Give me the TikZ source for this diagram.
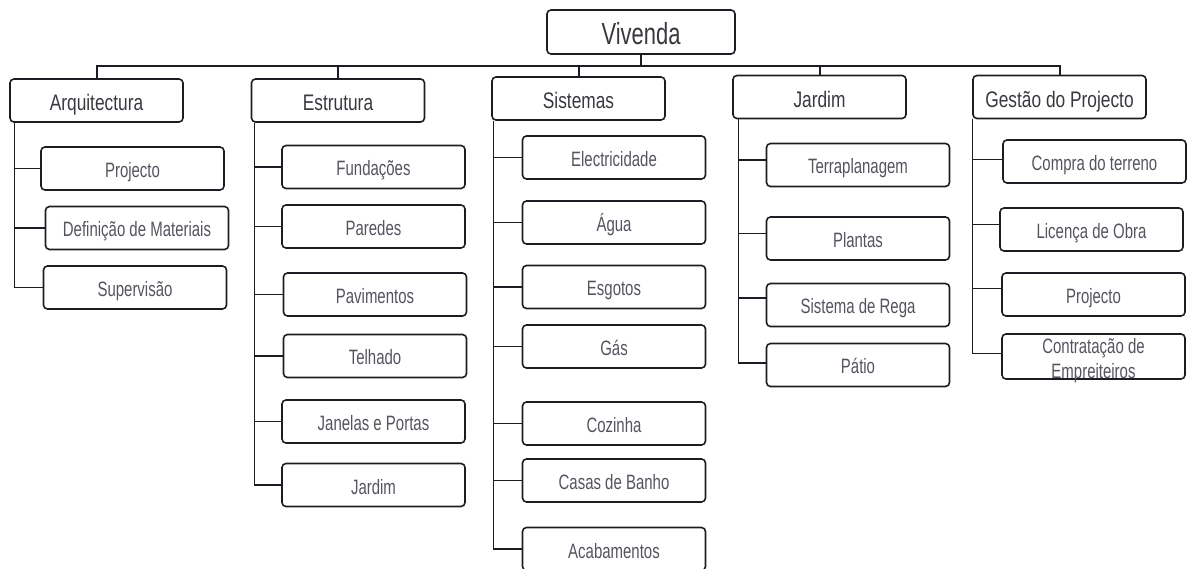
\documentclass[tikz,border=0pt]{standalone}
\usepackage{fontspec}
\setmainfont{Liberation Sans}[FakeStretch=0.72]
\newfontfamily\headfont{Liberation Sans}[FakeStretch=0.77]

\definecolor{edge}{HTML}{1E1C22}
\definecolor{ink}{HTML}{56535E}
\definecolor{headink}{HTML}{3A383F}

\begin{document}
\begin{tikzpicture}[x=1pt,y=-1pt,
  box/.style={draw=edge, line width=1.6pt, rounded corners=4pt, inner sep=0pt,
              minimum height=43pt, text=ink},
  root/.style={box, minimum width=188pt, minimum height=44pt, text=headink,
               font=\fontsize{30.5}{32}\selectfont, text height=26pt, text depth=0pt},
  area/.style={box, minimum width=173pt, text=headink,
               font=\headfont\fontsize{22.5}{24}\selectfont, text height=21pt, text depth=0pt},
  task/.style={box, minimum width=183pt,
               font=\fontsize{20.8}{25}\selectfont, text height=18pt, text depth=0pt},
  link/.style={draw=edge, line width=1.4pt},
  bus/.style={draw=edge, line width=2pt},
]
\useasboundingbox (0,0) rectangle (1187,569);

% root
\node[root] (viv) at (641,32) {Vivenda};

% second level
\node[area] (arq) at (96.5,100.5) {Arquitectura};
\node[area] (est) at (338,100.5)  {Estrutura};
\node[area] (sis) at (578.5,98.5) {Sistemas};
\node[area] (jar) at (819.5,97)   {Jardim};
\node[area] (ges) at (1059.5,97)  {Gestão do Projecto};

% Arquitectura
\node[task] (a1) at (132.5,168.5) {Projecto};
\node[task] (a2) at (137,228)     {Definição de Materiais};
\node[task] (a3) at (135,287.5)   {Supervisão};

% Estrutura
\node[task] (e1) at (373.5,167)   {Fundações};
\node[task] (e2) at (373.5,226.5) {Paredes};
\node[task] (e3) at (375,294.5)   {Pavimentos};
\node[task] (e4) at (375,356)     {Telhado};
\node[task] (e5) at (373.5,421.5) {Janelas e Portas};
\node[task] (e6) at (373.5,485)   {Jardim};

% Sistemas
\node[task] (s1) at (614,157.5) {Electricidade};
\node[task] (s2) at (614,222.5) {Água};
\node[task] (s3) at (614,287)   {Esgotos};
\node[task] (s4) at (614,346.5) {Gás};
\node[task] (s5) at (614,423.5) {Cozinha};
\node[task] (s6) at (614,480.5) {Casas de Banho};
\node[task] (s7) at (614,549)   {Acabamentos};

% Jardim
\node[task] (j1) at (858,165)   {Terraplanagem};
\node[task] (j2) at (858,238.5) {Plantas};
\node[task] (j3) at (858,305)   {Sistema de Rega};
\node[task] (j4) at (858,365)   {Pátio};

% Gestão do Projecto
\node[task] (g1) at (1094.5,161.5) {Compra do terreno};
\node[task] (g2) at (1091.5,229.5) {Licença de Obra};
\node[task] (g3) at (1093.5,294.5) {Projecto};
\node[task, text height=45pt] (g4) at (1093.5,356.5)
  {\begin{tabular}[b]{@{}c@{}}Contratação de\\Empreiteiros\end{tabular}};

% root to second level
\foreach \n in {arq,est,sis,jar,ges}
  \draw[bus] (viv.south) -- ++(0,11) -| (\n.north);

% branches
\foreach \c in {a1,a2,a3}
  \draw[link] ([xshift=5pt]arq.south west) |- (\c.west);
\foreach \c in {e1,e2,e3,e4,e5,e6}
  \draw[link] ([xshift=4pt]est.south west) |- (\c.west);
\foreach \c in {s1,s2,s3,s4,s5,s6,s7}
  \draw[link] ([xshift=2pt]sis.south west) |- (\c.west);
\foreach \c/\d in {j1/5,j2/5,j3/7,j4/2}
  \draw[link] ([xshift=6pt]jar.south west) |- ([yshift=\d pt]\c.west);
\foreach \c/\d in {g1/2,g2/5,g3/6,g4/3}
  \draw[link] ([xshift=0.5pt]ges.south west) |- ([yshift=\d pt]\c.west);
\end{tikzpicture}
\end{document}
